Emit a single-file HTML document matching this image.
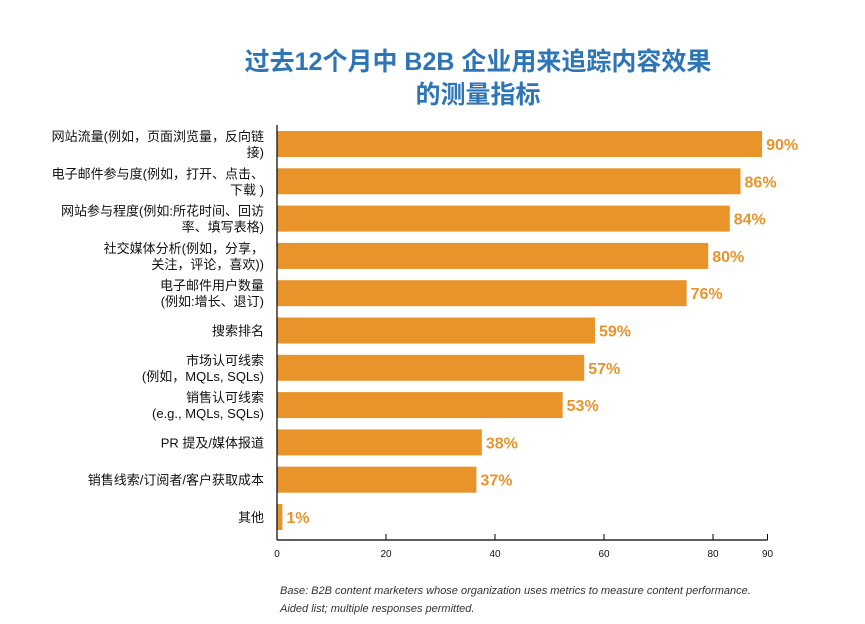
<!DOCTYPE html>
<html><head><meta charset="utf-8"><style>
body{margin:0;width:865px;height:619px;background:#fff;overflow:hidden;font-family:"Liberation Sans","Noto Sans CJK SC",sans-serif;}
</style></head><body>
<svg width="865" height="619">
<text x="478" y="70" text-anchor="middle" font-size="25" font-weight="bold" fill="#2e75b6" font-family="Liberation Sans, Noto Sans CJK SC, sans-serif">过去12个月中 B2B 企业用来追踪内容效果</text>
<text x="478" y="103" text-anchor="middle" font-size="25" font-weight="bold" fill="#2e75b6" font-family="Liberation Sans, Noto Sans CJK SC, sans-serif">的测量指标</text>
<g id="plot"></g>
<text x="280" y="594" font-size="11" font-style="italic" fill="#333">Base: B2B content marketers whose organization uses metrics to measure content performance.</text>
<text x="280" y="612" font-size="11" font-style="italic" fill="#333">Aided list; multiple responses permitted.</text>
</svg>
<script>
const categories=[["网站流量(例如，页面浏览量，反向链","接)"],["电子邮件参与度(例如，打开、点击、","下载 )"],["网站参与程度(例如:所花时间、回访","率、填写表格)"],["社交媒体分析(例如，分享，","关注，评论，喜欢))"],["电子邮件用户数量","(例如:增长、退订)"],["搜索排名"],["市场认可线索","(例如，MQLs, SQLs)"],["销售认可线索","(e.g., MQLs, SQLs)"],["PR 提及/媒体报道"],["销售线索/订阅者/客户获取成本"],["其他"]];
const values=[90,86,84,80,76,59,57,53,38,37,1];
const ticks=[0,20,40,60,80,90];
const NS="http://www.w3.org/2000/svg";
const g=document.getElementById('plot');
const x0=277,barScale=5.39,tickScale=5.45;
const barX=v=>x0+v*barScale;
const tickX=v=>x0+v*tickScale;
const yTop=131,step=37.3,bh=26;
const barY=i=>yTop+i*step;
function mk(t,a){const e=document.createElementNS(NS,t);for(const k in a)e.setAttribute(k,a[k]);g.appendChild(e);return e;}
values.forEach((v,i)=>{
 const r=mk('rect',{x:x0,y:barY(i),width:barX(v)-x0,height:bh,fill:'#e8942a'});
 
 
 const t=mk('text',{x:barX(v)+4,y:barY(i)+bh/2+6,'font-size':16,'font-weight':'bold',fill:'#e8942a'});
 t.textContent=v+'%';
 
 
 const lines=categories[i];
 lines.forEach((ln,j)=>{
  const cy=barY(i)+bh/2+5+(lines.length===2?(j===0?-8:8):0);
  const lt=mk('text',{x:264,y:cy,'text-anchor':'end','font-size':13,fill:'#111'});
  lt.textContent=ln;
  
  
 });
});
const ay=540;
const va=mk('line',{x1:x0,y1:125,x2:x0,y2:ay,stroke:'#000','stroke-width':1.2});


const ha=mk('line',{x1:x0,y1:ay,x2:tickX(90),y2:ay,stroke:'#000','stroke-width':1.2});


ticks.forEach(tv=>{
 const tl=mk('line',{x1:tickX(tv),y1:ay-6,x2:tickX(tv),y2:ay,stroke:'#000'});
 
 
 const tt=mk('text',{x:tickX(tv),y:ay+17,'text-anchor':'middle','font-size':10,fill:'#111'});
 tt.textContent=tv;
 
 
});
</script>
</body></html>
